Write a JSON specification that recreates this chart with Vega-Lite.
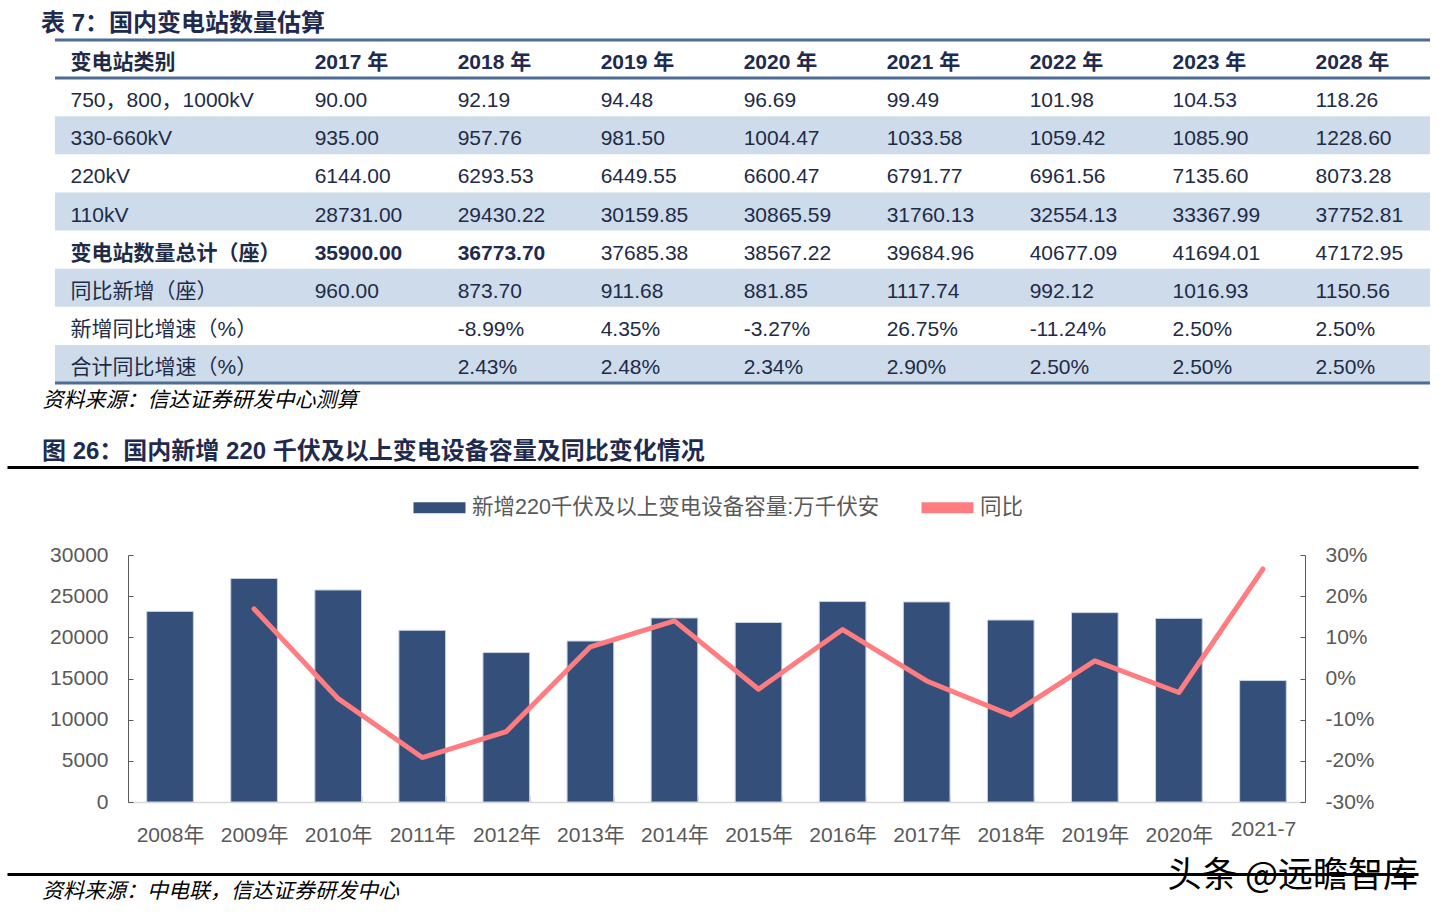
{
  "$schema": "https://vega.github.io/schema/vega-lite/v6.json",
  "background": "white",
  "padding": {"left": 7, "top": 11, "right": 5, "bottom": 5},
  "spacing": 0,
  "resolve": {"scale": {"color": "independent"}, "legend": {"color": "independent"}},
  "config": {
    "view": {"stroke": null},
    "font": "Liberation Sans, Noto Sans CJK SC",
    "axis": {"labelFont": "Liberation Sans, Noto Sans CJK SC", "titleFont": "Liberation Sans, Noto Sans CJK SC"},
    "legend": {"labelFont": "Liberation Sans, Noto Sans CJK SC"},
    "title": {"font": "Liberation Sans, Noto Sans CJK SC"}
  },
  "datasets": {
    "rows": [
      {"r": "变电站类别"}, {"r": "750，800，1000kV"}, {"r": "330-660kV"}, {"r": "220kV"}, {"r": "110kV"},
      {"r": "变电站数量总计（座）"}, {"r": "同比新增（座）"}, {"r": "新增同比增速（%）"}, {"r": "合计同比增速（%）"}
    ],
    "cells": [
      {"r": "变电站类别", "c": "2017 年", "v": "2017 年"},
      {"r": "变电站类别", "c": "2018 年", "v": "2018 年"},
      {"r": "变电站类别", "c": "2019 年", "v": "2019 年"},
      {"r": "变电站类别", "c": "2020 年", "v": "2020 年"},
      {"r": "变电站类别", "c": "2021 年", "v": "2021 年"},
      {"r": "变电站类别", "c": "2022 年", "v": "2022 年"},
      {"r": "变电站类别", "c": "2023 年", "v": "2023 年"},
      {"r": "变电站类别", "c": "2028 年", "v": "2028 年"},
      {"r": "750，800，1000kV", "c": "2017 年", "v": "90.00"},
      {"r": "750，800，1000kV", "c": "2018 年", "v": "92.19"},
      {"r": "750，800，1000kV", "c": "2019 年", "v": "94.48"},
      {"r": "750，800，1000kV", "c": "2020 年", "v": "96.69"},
      {"r": "750，800，1000kV", "c": "2021 年", "v": "99.49"},
      {"r": "750，800，1000kV", "c": "2022 年", "v": "101.98"},
      {"r": "750，800，1000kV", "c": "2023 年", "v": "104.53"},
      {"r": "750，800，1000kV", "c": "2028 年", "v": "118.26"},
      {"r": "330-660kV", "c": "2017 年", "v": "935.00"},
      {"r": "330-660kV", "c": "2018 年", "v": "957.76"},
      {"r": "330-660kV", "c": "2019 年", "v": "981.50"},
      {"r": "330-660kV", "c": "2020 年", "v": "1004.47"},
      {"r": "330-660kV", "c": "2021 年", "v": "1033.58"},
      {"r": "330-660kV", "c": "2022 年", "v": "1059.42"},
      {"r": "330-660kV", "c": "2023 年", "v": "1085.90"},
      {"r": "330-660kV", "c": "2028 年", "v": "1228.60"},
      {"r": "220kV", "c": "2017 年", "v": "6144.00"},
      {"r": "220kV", "c": "2018 年", "v": "6293.53"},
      {"r": "220kV", "c": "2019 年", "v": "6449.55"},
      {"r": "220kV", "c": "2020 年", "v": "6600.47"},
      {"r": "220kV", "c": "2021 年", "v": "6791.77"},
      {"r": "220kV", "c": "2022 年", "v": "6961.56"},
      {"r": "220kV", "c": "2023 年", "v": "7135.60"},
      {"r": "220kV", "c": "2028 年", "v": "8073.28"},
      {"r": "110kV", "c": "2017 年", "v": "28731.00"},
      {"r": "110kV", "c": "2018 年", "v": "29430.22"},
      {"r": "110kV", "c": "2019 年", "v": "30159.85"},
      {"r": "110kV", "c": "2020 年", "v": "30865.59"},
      {"r": "110kV", "c": "2021 年", "v": "31760.13"},
      {"r": "110kV", "c": "2022 年", "v": "32554.13"},
      {"r": "110kV", "c": "2023 年", "v": "33367.99"},
      {"r": "110kV", "c": "2028 年", "v": "37752.81"},
      {"r": "变电站数量总计（座）", "c": "2017 年", "v": "35900.00"},
      {"r": "变电站数量总计（座）", "c": "2018 年", "v": "36773.70"},
      {"r": "变电站数量总计（座）", "c": "2019 年", "v": "37685.38"},
      {"r": "变电站数量总计（座）", "c": "2020 年", "v": "38567.22"},
      {"r": "变电站数量总计（座）", "c": "2021 年", "v": "39684.96"},
      {"r": "变电站数量总计（座）", "c": "2022 年", "v": "40677.09"},
      {"r": "变电站数量总计（座）", "c": "2023 年", "v": "41694.01"},
      {"r": "变电站数量总计（座）", "c": "2028 年", "v": "47172.95"},
      {"r": "同比新增（座）", "c": "2017 年", "v": "960.00"},
      {"r": "同比新增（座）", "c": "2018 年", "v": "873.70"},
      {"r": "同比新增（座）", "c": "2019 年", "v": "911.68"},
      {"r": "同比新增（座）", "c": "2020 年", "v": "881.85"},
      {"r": "同比新增（座）", "c": "2021 年", "v": "1117.74"},
      {"r": "同比新增（座）", "c": "2022 年", "v": "992.12"},
      {"r": "同比新增（座）", "c": "2023 年", "v": "1016.93"},
      {"r": "同比新增（座）", "c": "2028 年", "v": "1150.56"},
      {"r": "新增同比增速（%）", "c": "2018 年", "v": "-8.99%"},
      {"r": "新增同比增速（%）", "c": "2019 年", "v": "4.35%"},
      {"r": "新增同比增速（%）", "c": "2020 年", "v": "-3.27%"},
      {"r": "新增同比增速（%）", "c": "2021 年", "v": "26.75%"},
      {"r": "新增同比增速（%）", "c": "2022 年", "v": "-11.24%"},
      {"r": "新增同比增速（%）", "c": "2023 年", "v": "2.50%"},
      {"r": "新增同比增速（%）", "c": "2028 年", "v": "2.50%"},
      {"r": "合计同比增速（%）", "c": "2018 年", "v": "2.43%"},
      {"r": "合计同比增速（%）", "c": "2019 年", "v": "2.48%"},
      {"r": "合计同比增速（%）", "c": "2020 年", "v": "2.34%"},
      {"r": "合计同比增速（%）", "c": "2021 年", "v": "2.90%"},
      {"r": "合计同比增速（%）", "c": "2022 年", "v": "2.50%"},
      {"r": "合计同比增速（%）", "c": "2023 年", "v": "2.50%"},
      {"r": "合计同比增速（%）", "c": "2028 年", "v": "2.50%"}
    ],
    "cap": [
      {"year": "2008年", "cap": 23150, "yoy": null},
      {"year": "2009年", "cap": 27150, "yoy": 0.169},
      {"year": "2010年", "cap": 25750, "yoy": -0.049},
      {"year": "2011年", "cap": 20850, "yoy": -0.192},
      {"year": "2012年", "cap": 18150, "yoy": -0.129},
      {"year": "2013年", "cap": 19550, "yoy": 0.077},
      {"year": "2014年", "cap": 22350, "yoy": 0.140},
      {"year": "2015年", "cap": 21800, "yoy": -0.026},
      {"year": "2016年", "cap": 24350, "yoy": 0.119},
      {"year": "2017年", "cap": 24300, "yoy": -0.006},
      {"year": "2018年", "cap": 22100, "yoy": -0.089},
      {"year": "2019年", "cap": 23000, "yoy": 0.043},
      {"year": "2020年", "cap": 22300, "yoy": -0.034},
      {"year": "2021-7", "cap": 14750, "yoy": 0.266}
    ],
    "mark": [{"t": "头条 @远瞻智库"}]
  },
  "vconcat": [
    {
      "bounds": "flush",
      "spacing": 0,
      "hconcat": [
        {"width": 48, "height": 343, "data": {"values": []}, "mark": "point", "encoding": {}},
        {
          "width": 1375,
          "height": 343,
          "title": {"text": "表 7：国内变电站数量估算", "anchor": "start", "dx": -1, "offset": 3, "fontSize": 24, "fontWeight": "bold", "color": "#1E2B4F"},
          "layer": [
            {
              "data": {"name": "rows"},
              "transform": [
                {"window": [{"op": "row_number", "as": "rn"}]},
                {"filter": "datum.rn > 1 && datum.rn % 2 == 1"}
              ],
              "mark": {"type": "rect", "color": "#CDDBEA"},
              "encoding": {
                "y": {
                  "field": "r", "type": "nominal",
                  "scale": {"domain": ["变电站类别", "750，800，1000kV", "330-660kV", "220kV", "110kV", "变电站数量总计（座）", "同比新增（座）", "新增同比增速（%）", "合计同比增速（%）"], "paddingInner": 0, "paddingOuter": 0},
                  "axis": {
                    "orient": "left", "title": null, "domain": false, "ticks": false,
                    "labelAlign": "left", "labelBaseline": "middle", "labelPadding": -15, "labelOffset": 4,
                    "labelFontSize": 21, "labelColor": "#1E2B47", "labelLimit": 400, "labelOverlap": false, "zindex": 1,
                    "labelFontWeight": {"condition": {"test": "datum.value == '变电站类别' || datum.value == '变电站数量总计（座）'", "value": "bold"}, "value": "normal"}
                  }
                }
              }
            },
            {
              "data": {"name": "rows"},
              "transform": [{"filter": "datum.r == '变电站类别'"}],
              "mark": {"type": "rule", "color": "#4E6D94", "strokeWidth": 3},
              "encoding": {"y": {"field": "r", "type": "nominal", "bandPosition": 0}}
            },
            {
              "data": {"name": "rows"},
              "transform": [{"filter": "datum.r == '变电站类别' || datum.r == '合计同比增速（%）'"}],
              "mark": {"type": "rule", "color": "#4E6D94", "strokeWidth": 3},
              "encoding": {"y": {"field": "r", "type": "nominal", "bandPosition": 1}}
            },
            {
              "data": {"name": "cells"},
              "transform": [{"filter": "datum.r != '变电站类别' && !(datum.r == '变电站数量总计（座）' && (datum.c == '2017 年' || datum.c == '2018 年'))"}],
              "mark": {"type": "text", "align": "left", "baseline": "middle", "dy": 4, "fontSize": 21, "color": "#1E2B47"},
              "encoding": {
                "x": {
                  "field": "c", "type": "ordinal", "bandPosition": 0.2,
                  "scale": {"type": "band", "domain": ["2017 年", "2018 年", "2019 年", "2020 年", "2021 年", "2022 年", "2023 年", "2028 年"], "paddingInner": 0, "paddingOuter": 0.808, "align": 1},
                  "axis": {
                    "orient": "bottom", "labels": false, "ticks": false, "domain": false,
                    "title": "资料来源：信达证券研发中心测算", "titleX": -13, "titleAlign": "left", "titleBaseline": "top", "titlePadding": 6,
                    "titleFontSize": 21, "titleFontStyle": "italic", "titleFontWeight": "normal", "titleColor": "#000000"
                  }
                },
                "y": {"field": "r", "type": "nominal"},
                "text": {"field": "v"}
              }
            },
            {
              "data": {"name": "cells"},
              "transform": [{"filter": "datum.r == '变电站类别' || (datum.r == '变电站数量总计（座）' && (datum.c == '2017 年' || datum.c == '2018 年'))"}],
              "mark": {"type": "text", "align": "left", "baseline": "middle", "dy": 4, "fontSize": 21, "fontWeight": "bold", "color": "#1E2B4F"},
              "encoding": {
                "x": {"field": "c", "type": "ordinal", "bandPosition": 0.2},
                "y": {"field": "r", "type": "nominal"},
                "text": {"field": "v"}
              }
            }
          ]
        }
      ]
    },
    {"width": 1, "height": 30, "data": {"values": []}, "mark": "point", "encoding": {}},
    {
      "width": 1411,
      "height": 9,
      "title": {"text": "图 26：国内新增 220 千伏及以上变电设备容量及同比变化情况", "anchor": "start", "dx": 35, "offset": 3, "fontSize": 24, "fontWeight": "bold", "color": "#1E2B4F"},
      "data": {"values": []},
      "mark": "rule",
      "encoding": {
        "x": {"datum": 0, "type": "quantitative", "axis": {"orient": "top", "domainColor": "#000000", "domainWidth": 3, "labels": false, "ticks": false, "grid": false, "title": null}}
      }
    },
    {
      "bounds": "flush",
      "spacing": 0,
      "resolve": {"scale": {"color": "independent"}, "legend": {"color": "independent"}},
      "hconcat": [
        {"width": 121, "height": 247, "data": {"values": []}, "mark": "point", "encoding": {}},
        {
          "width": 1177,
          "height": 247,
          "data": {"name": "cap"},
          "encoding": {
            "x": {
              "field": "year", "type": "ordinal", "sort": null,
              "scale": {"type": "band", "paddingInner": 0.445, "paddingOuter": 0.2225},
              "axis": {
                "title": null, "labelAngle": 0, "tickBand": "extent", "domainColor": "#D9D9D9", "domainWidth": 1.5,
                "tickColor": "#D9D9D9", "tickSize": -6, "labelFontSize": 21, "labelColor": "#595959", "labelBaseline": "top",
                "labelPadding": {"condition": {"test": "datum.value == '2021-7'", "value": 22}, "value": 28}
              }
            }
          },
          "layer": [
            {
              "mark": {"type": "bar", "stroke": "#C8D2E2", "strokeWidth": 1},
              "encoding": {
                "y": {
                  "field": "cap", "type": "quantitative",
                  "scale": {"domain": [0, 30000]},
                  "axis": {
                    "orient": "left", "title": null, "values": [0, 5000, 10000, 15000, 20000, 25000, 30000], "format": "d", "grid": false,
                    "labelFontSize": 21, "labelColor": "#595959", "domainColor": "#595959", "tickColor": "#595959", "tickSize": -5, "labelPadding": 25
                  }
                },
                "color": {
                  "datum": "新增220千伏及以上变电设备容量:万千伏安",
                  "scale": {"domain": ["新增220千伏及以上变电设备容量:万千伏安", "同比"], "range": ["#34507A", "#FF7C80"]},
                  "legend": {
                    "orient": "none", "legendX": 280, "legendY": -79, "direction": "horizontal", "title": null,
                    "symbolType": "stroke", "symbolSize": 2704, "symbolStrokeWidth": 11,
                    "labelFontSize": 21.5, "labelColor": "#595959", "labelLimit": 600, "columnPadding": 19, "labelOffset": 1,
                    "encode": {
                      "symbols": {
                        "update": {
                          "stroke": {"signal": "datum.value === '同比' ? '#FF7C80' : '#34507A'"},
                          "strokeWidth": {"signal": "datum.value === '同比' ? 5 : 11"},
                          "fill": {"value": "transparent"}
                        }
                      }
                    }
                  }
                }
              }
            },
            {
              "transform": [{"filter": "datum.yoy != null"}],
              "mark": {"type": "line", "strokeWidth": 5, "strokeCap": "round", "strokeJoin": "round"},
              "encoding": {
                "y": {
                  "field": "yoy", "type": "quantitative",
                  "scale": {"domain": [-0.3, 0.3]},
                  "axis": {
                    "orient": "right", "title": null, "values": [-0.3, -0.2, -0.1, 0, 0.1, 0.2, 0.3], "format": ".0%", "labelExpr": "replace(datum.label, '−', '-')", "grid": false,
                    "labelFontSize": 21, "labelColor": "#595959", "domainColor": "#595959", "tickColor": "#595959", "tickSize": -5, "labelPadding": 25
                  }
                },
                "color": {"datum": "同比"}
              }
            }
          ],
          "resolve": {"scale": {"y": "independent"}}
        }
      ]
    },
    {
      "width": 1411,
      "height": 29,
      "title": {"text": "资料来源：中电联，信达证券研发中心", "orient": "bottom", "anchor": "start", "dx": 35, "dy": -19, "offset": 6, "fontSize": 21, "fontStyle": "italic", "fontWeight": "normal", "color": "#000000"},
      "layer": [
        {
          "data": {"values": []},
          "mark": "rule",
          "encoding": {
            "x": {"datum": 0, "type": "quantitative", "scale": {"domain": [0, 1]}, "axis": {"orient": "bottom", "domainColor": "#000000", "domainWidth": 3, "labels": false, "ticks": false, "grid": false, "title": null}}
          }
        },
        {
          "data": {"name": "mark"},
          "mark": {"type": "text", "align": "right", "baseline": "middle", "fontSize": 35, "color": "#000000", "dy": 16, "font": "Noto Sans CJK SC"},
          "encoding": {
            "x": {"datum": 1, "type": "quantitative"},
            "text": {"field": "t"}
          }
        }
      ]
    }
  ]
}
